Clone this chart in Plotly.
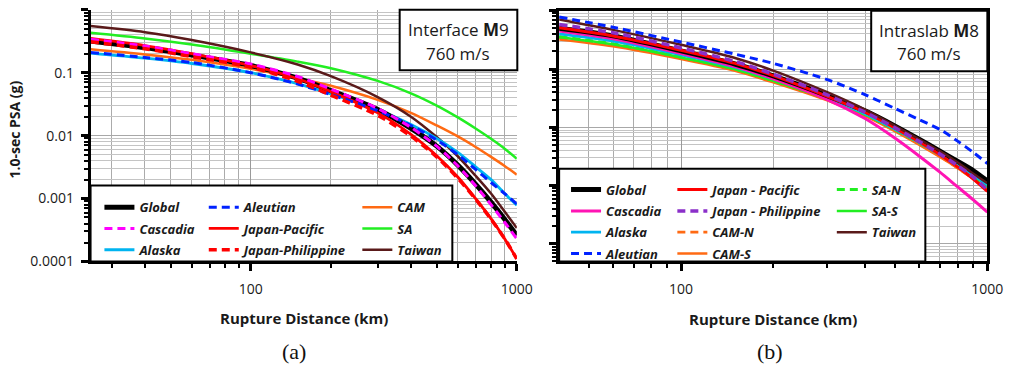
import numpy as np
import plotly.graph_objects as go

# ---------------- data: 1.0-sec PSA (g) vs rupture distance (km) ----------------
# (a) Interface M9, Vs30 = 760 m/s
dist_a = [25, 40, 60, 100, 150, 200, 300, 400, 500, 600, 700, 800, 900, 1000]
global_a = [0.32, 0.25, 0.19, 0.13, 0.082, 0.052, 0.026, 0.013, 0.0068, 0.0034, 0.0017, 0.00088, 0.00047, 0.00026]
cascadia_a = [0.34, 0.265, 0.2, 0.137, 0.087, 0.055, 0.027, 0.0135, 0.0068, 0.0033, 0.0016, 0.0008, 0.00042, 0.00023]
alaska_a = [0.205, 0.17, 0.14, 0.1, 0.067, 0.046, 0.026, 0.015, 0.009, 0.0054, 0.0032, 0.002, 0.0012, 0.00078]
aleutian_a = [0.21, 0.175, 0.145, 0.1, 0.066, 0.045, 0.025, 0.0145, 0.0085, 0.005, 0.0029, 0.0018, 0.0012, 0.00082]
japan_pac_a = [0.35, 0.27, 0.2, 0.13, 0.08, 0.05, 0.023, 0.0105, 0.0048, 0.0022, 0.001, 0.00048, 0.00023, 0.00011]
japan_phil_a = [0.31, 0.24, 0.18, 0.122, 0.073, 0.044, 0.021, 0.0098, 0.0046, 0.0021, 0.00098, 0.00047, 0.00023, 0.00011]
cam_a = [0.235, 0.195, 0.16, 0.115, 0.082, 0.062, 0.037, 0.023, 0.0145, 0.0097, 0.0066, 0.0046, 0.0033, 0.0024]
sa_a = [0.43, 0.35, 0.28, 0.2, 0.15, 0.118, 0.074, 0.047, 0.03, 0.0195, 0.013, 0.0089, 0.0062, 0.0043]
taiwan_a = [0.55, 0.44, 0.33, 0.21, 0.135, 0.088, 0.041, 0.02, 0.0095, 0.0047, 0.0023, 0.0012, 0.00062, 0.00034]

# (b) Intraslab M8, Vs30 = 760 m/s
dist_b = [40, 60, 100, 150, 200, 300, 400, 500, 600, 700, 800, 900, 1000]
global_b = [0.5, 0.37, 0.205, 0.122, 0.076, 0.035, 0.019, 0.0105, 0.0062, 0.0039, 0.0026, 0.0018, 0.0012]
cascadia_b = [0.45, 0.33, 0.185, 0.11, 0.068, 0.03, 0.014, 0.0065, 0.0032, 0.0017, 0.00095, 0.00057, 0.00035]
alaska_b = [0.4, 0.3, 0.175, 0.107, 0.068, 0.032, 0.017, 0.0093, 0.0055, 0.0034, 0.0022, 0.0015, 0.00104]
aleutian_b = [0.78, 0.52, 0.29, 0.18, 0.125, 0.066, 0.036, 0.021, 0.0135, 0.0092, 0.0058, 0.0037, 0.0024]
japan_pac_b = [0.51, 0.37, 0.21, 0.125, 0.077, 0.034, 0.018, 0.0097, 0.0056, 0.0034, 0.0021, 0.0013, 0.0008]
japan_phil_b = [0.58, 0.42, 0.23, 0.135, 0.082, 0.036, 0.018, 0.0098, 0.0057, 0.0035, 0.0022, 0.0014, 0.00085]
cam_n_b = [0.35, 0.265, 0.158, 0.098, 0.062, 0.03, 0.016, 0.0088, 0.0052, 0.0032, 0.002, 0.0013, 0.00085]
cam_s_b = [0.32, 0.245, 0.148, 0.093, 0.059, 0.029, 0.0155, 0.0085, 0.005, 0.0031, 0.002, 0.0013, 0.00082]
sa_n_b = [0.36, 0.27, 0.16, 0.1, 0.063, 0.031, 0.0165, 0.0091, 0.0054, 0.0034, 0.0022, 0.0014, 0.00095]
sa_s_b = [0.35, 0.265, 0.158, 0.099, 0.063, 0.031, 0.0166, 0.0092, 0.0055, 0.0035, 0.0023, 0.0015, 0.001]
taiwan_b = [0.71, 0.47, 0.26, 0.155, 0.094, 0.04, 0.02, 0.0106, 0.0062, 0.0039, 0.0025, 0.0016, 0.0011]

# axis ticks
x_major = [100, 1000]
x_major_text = ["100", "1000"]
y_major = [0.0001, 0.001, 0.01, 0.1, 1]
y_major_text = ["0.0001", "0.001", "0.01", "0.1", "1"]

# ---------------- figure geometry (pixels) ----------------
W, H = 1026, 370
FONT = "Open Sans"
TXT = "#1a1a1a"


def fx(p):
    return p / W


def fy(p):
    return 1 - p / H


def minor_vals(lo_exp, hi_exp):
    return [m * 10.0 ** e for e in range(lo_exp, hi_exp) for m in range(2, 10)]


BLACK = "#000000"
MAGENTA = "#FF00FF"
PINK = "#FF14B4"
CYAN = "#00B4F0"
BLUE = "#0022FF"
RED = "#FF0000"
PURPLE = "#8B2FC9"
ORANGE = "#FF6A13"
GREEN = "#22EE22"
BROWN = "#5A1A1A"
DASH = "8px,5px"

fig = go.Figure()


def add(x, y, name, color, width, dash, xa, ya, legend, rank):
    fig.add_trace(go.Scatter(
        x=x, y=y, name=name, mode="lines",
        line=dict(color=color, width=width, dash=dash, shape="spline", smoothing=0.8),
        xaxis=xa, yaxis=ya, legend=legend, legendrank=rank,
        legendgroup=name + xa, hoverinfo="skip",
    ))


# panel (a): drawing order sets stacking
add(dist_a, sa_a, "SA", GREEN, 2.5, "solid", "x", "y", "legend3", 2)
add(dist_a, cam_a, "CAM", ORANGE, 2.5, "solid", "x", "y", "legend3", 1)
add(dist_a, taiwan_a, "Taiwan", BROWN, 2.5, "solid", "x", "y", "legend3", 3)
add(dist_a, alaska_a, "Alaska", CYAN, 2.8, "solid", "x", "y", "legend", 3)
add(dist_a, global_a, "Global", BLACK, 5, "solid", "x", "y", "legend", 1)
add(dist_a, japan_pac_a, "Japan-Pacific", RED, 2.8, "solid", "x", "y", "legend2", 2)
add(dist_a, aleutian_a, "Aleutian", BLUE, 3, DASH, "x", "y", "legend2", 1)
add(dist_a, cascadia_a, "Cascadia", MAGENTA, 3, DASH, "x", "y", "legend", 2)
add(dist_a, japan_phil_a, "Japan-Philippine", RED, 3.5, DASH, "x", "y", "legend2", 3)

# panel (b)
add(dist_b, cam_s_b, "CAM-S", ORANGE, 2.5, "solid", "x2", "y2", "legend5", 4)
add(dist_b, cam_n_b, "CAM-N", ORANGE, 2.8, DASH, "x2", "y2", "legend5", 3)
add(dist_b, sa_s_b, "SA-S", GREEN, 2.5, "solid", "x2", "y2", "legend6", 2)
add(dist_b, sa_n_b, "SA-N", GREEN, 3, DASH, "x2", "y2", "legend6", 1)
add(dist_b, alaska_b, "Alaska", CYAN, 2.8, "solid", "x2", "y2", "legend4", 3)
add(dist_b, cascadia_b, "Cascadia", PINK, 3, "solid", "x2", "y2", "legend4", 2)
add(dist_b, global_b, "Global", BLACK, 5, "solid", "x2", "y2", "legend4", 1)
add(dist_b, japan_pac_b, "Japan - Pacific", RED, 3, "solid", "x2", "y2", "legend5", 1)
add(dist_b, taiwan_b, "Taiwan", BROWN, 2.5, "solid", "x2", "y2", "legend6", 3)
add(dist_b, japan_phil_b, "Japan - Philippine", PURPLE, 3.5, DASH, "x2", "y2", "legend5", 2)
add(dist_b, aleutian_b, "Aleutian", BLUE, 3, DASH, "x2", "y2", "legend4", 4)

tickfont = dict(family=FONT, size=14, color=TXT)
XGRID, XGRID_MINOR = "#9a9a9a", "#ababab"
YGRID, YGRID_MINOR = "#a8a8a8", "#c4c4c4"


def xaxis(rng, dom, minors, anchor, mirror):
    return dict(
        type="log", range=rng, domain=dom, anchor=anchor,
        tickmode="array", tickvals=x_major, ticktext=x_major_text,
        ticks="outside", ticklen=7, tickwidth=2.5, tickcolor="black",
        tickfont=tickfont, ticklabelstandoff=6,
        showline=True, linecolor="black", linewidth=2.5, mirror=mirror,
        showgrid=True, gridcolor=XGRID, gridwidth=1, zeroline=False,
        minor=dict(tickmode="array", tickvals=minors, ticks="outside", ticklen=4,
                   tickwidth=1.5, tickcolor="black", showgrid=True,
                   gridcolor=XGRID_MINOR, gridwidth=1),
    )


def yaxis(rng, dom, anchor, labels, mirror):
    return dict(
        type="log", range=rng, domain=dom, anchor=anchor,
        tickmode="array", tickvals=y_major, ticktext=y_major_text,
        showticklabels=labels,
        ticks="outside", ticklen=7, tickwidth=2.5, tickcolor="black",
        tickfont=tickfont, ticklabelstandoff=4,
        showline=True, linecolor="black", linewidth=2.5, mirror=mirror,
        showgrid=True, gridcolor=YGRID, gridwidth=1, zeroline=False,
        minor=dict(tickmode="array", tickvals=minor_vals(-5, 0), ticks="outside", ticklen=4,
                   tickwidth=1.5, tickcolor="black", showgrid=True,
                   gridcolor=YGRID_MINOR, gridwidth=1),
    )


x_minor_a = [30, 40, 50, 60, 70, 80, 90, 200, 300, 400, 500, 600, 700, 800, 900]
x_minor_b = [50, 60, 70, 80, 90, 200, 300, 400, 500, 600, 700, 800, 900]

legend_font = dict(family=FONT, size=13, color=TXT, weight="bold", style="italic")


def legend(x_px, y_px):
    return dict(
        x=fx(x_px), y=fy(y_px), xref="paper", yref="paper",
        xanchor="left", yanchor="top", orientation="v",
        bgcolor="rgba(0,0,0,0)", borderwidth=0, font=legend_font,
        traceorder="grouped", tracegroupgap=1.4, itemwidth=30,
        itemclick=False, itemdoubleclick=False,
    )


box_line = dict(color="black", width=2)
shapes = [
    dict(type="rect", xref="paper", yref="paper", layer="above",
         x0=fx(406), x1=fx(525.5), y0=fy(72), y1=fy(10), line=box_line, fillcolor="white"),
    dict(type="rect", xref="paper", yref="paper", layer="above",
         x0=fx(885), x1=fx(1003), y0=fy(73), y1=fy(11), line=box_line, fillcolor="white"),
    dict(type="rect", xref="paper", yref="paper", layer="above",
         x0=fx(92), x1=fx(459.5), y0=fy(268), y1=fy(190), line=box_line, fillcolor="white"),
    dict(type="rect", xref="paper", yref="paper", layer="above",
         x0=fx(568), x1=fx(940), y0=fy(268), y1=fy(173), line=box_line, fillcolor="white"),
]


def note(text, x_px, y_px, size, family=FONT, angle=0, color=TXT):
    return dict(text=text, x=fx(x_px), y=fy(y_px), xref="paper", yref="paper",
                xanchor="center", yanchor="middle", showarrow=False, textangle=angle,
                font=dict(family=family, size=size, color=color))


annotations = [
    note("Interface <b>M</b>9", 465.5, 30, 17),
    note("760 m/s", 465.5, 55, 17),
    note("Intraslab <b>M</b>8", 944, 31, 17),
    note("760 m/s", 944, 55, 17),
    note("<b>1.0-sec PSA (g)</b>", 15, 133, 14, angle=-90),
    note("<b>Rupture Distance (km)</b>", 309, 326, 15),
    note("<b>Rupture Distance (km)</b>", 785, 327, 15),
    note("(a)", 299, 360, 22, family="Liberation Serif", color="#111"),
    note("(b)", 782, 360, 22, family="Liberation Serif", color="#111"),
]

fig.update_layout(
    width=W, height=H, autosize=False,
    margin=dict(l=0, r=0, t=0, b=0),
    paper_bgcolor="white", plot_bgcolor="white",
    font=dict(family=FONT, color=TXT),
    xaxis=xaxis([np.log10(25), 3], [fx(92), fx(525)], x_minor_a, "y", False),
    yaxis=yaxis([-4, 0], [fy(268), fy(10)], "x", True, False),
    xaxis2=xaxis([np.log10(40), 3], [fx(568), fx(1003)], x_minor_b, "y2", True),
    yaxis2=yaxis([np.log10(5e-5), 0], [fy(268), fy(11)], "x2", False, True),
    legend=legend(101, 197),
    legend2=legend(207, 197),
    legend3=legend(363, 197),
    legend4=legend(575, 179),
    legend5=legend(683, 179),
    legend6=legend(845, 179),
    shapes=shapes,
    annotations=annotations,
    showlegend=True,
)

fig.write_html("out.html")
